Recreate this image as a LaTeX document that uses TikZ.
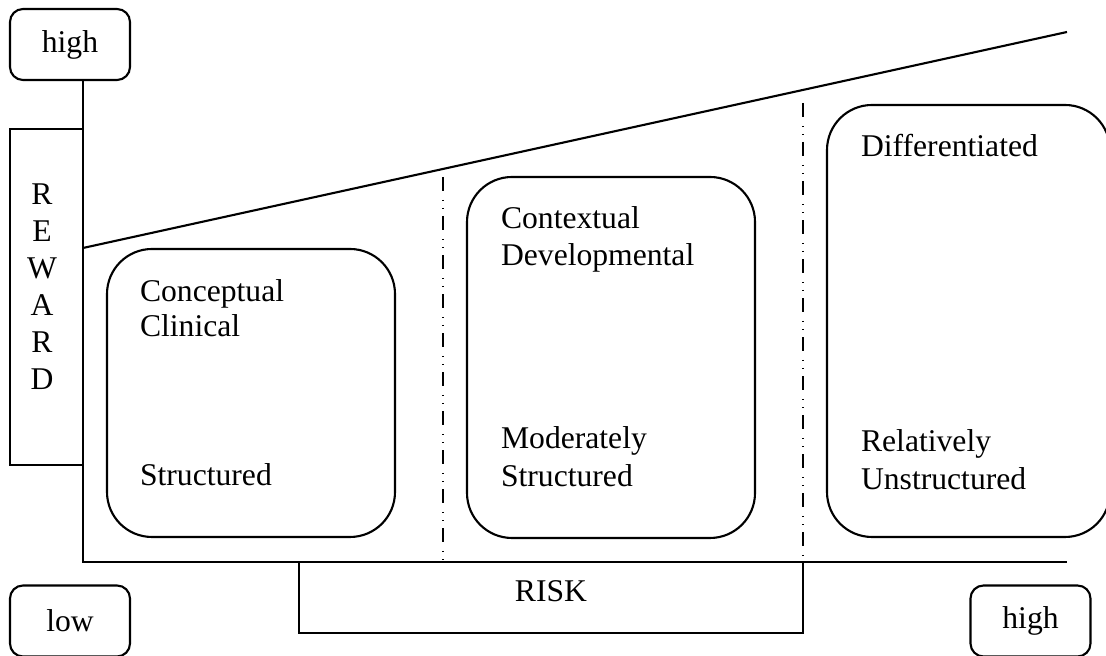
\documentclass[tikz,border=0pt]{standalone}
\usepackage{fontspec}
\setmainfont{Liberation Serif}
\usetikzlibrary{positioning,calc}

\begin{document}
\begin{tikzpicture}[scale=1, line width=0.6pt,
    every node/.style={font=\fontsize{9}{10.5}\selectfont},
    endbox/.style={draw, rounded corners=0.13cm, minimum width=1.2cm, minimum height=0.71cm, inner sep=0pt},
    fieldbox/.style={draw, rounded corners=0.45cm, inner sep=0pt},
    plainbox/.style={draw, inner sep=0pt},
    txt/.style={anchor=base west, inner sep=0pt},
    divider/.style={dash pattern=on 4pt off 2.5pt on 0.3pt off 2pt on 0.3pt off 2pt}]

    \useasboundingbox (0,0) rectangle (11.06,6.56);

    % axes
    \coordinate (org) at (0.83,0.94);
    \coordinate (xend) at (10.67,0.94);
    \coordinate (slantA) at (0.83,4.08);
    \coordinate (slantB) at (10.67,6.24);

    \node[endbox] (hightop) at (0.70,6.115) {high};
    \node[endbox] (low) at (0.70,0.35) {low};
    \node[endbox] (highbot) at (10.305,0.35) {high};

    \node[plainbox, minimum width=0.73cm, minimum height=3.36cm] (rewardbox) at (0.465,3.59) {};
    \foreach \ch [count=\i] in {R,E,W,A,R,D}
        \node[anchor=base, inner sep=0pt] (rw\i) at (0.42,4.88-0.37*\i) {\ch};

    \node[plainbox, minimum width=5.04cm, minimum height=0.71cm] (riskbox) at (5.51,0.585) {};
    \node[inner sep=0pt] (risk) at (5.51,0.645) {RISK};

    \draw (hightop.south -| org) -- (org) -- (xend);
    \draw (slantA) -- (slantB);

    % dividers
    \coordinate (divA) at (4.43,4.79);
    \coordinate (divB) at (8.03,5.53);
    \draw[divider] (divA) -- (divA |- org);
    \draw[divider] (divB) -- (divB |- org);

    % fields
    \node[fieldbox, minimum width=2.88cm, minimum height=2.88cm] (clinbox) at (2.51,2.63) {};
    \node[fieldbox, minimum width=2.88cm, minimum height=3.61cm] (devbox) at (6.11,2.985) {};
    \node[fieldbox, minimum width=2.83cm, minimum height=4.32cm] (diffbox) at (9.685,3.35) {};

    \node[txt] (concept) at (1.39,3.54) {Conceptual};
    \node[txt] (clinic) at (1.39,3.19) {Clinical};
    \node[txt] (struct) at (1.39,1.70) {Structured};

    \node[txt] (context) at (5.00,4.27) {Contextual};
    \node[txt] (develop) at (5.00,3.90) {Developmental};
    \node[txt] (moder) at (5.00,2.07) {Moderately};
    \node[txt] (modstruct) at (5.00,1.69) {Structured};

    \node[txt] (differ) at (8.60,4.99) {Differentiated};
    \node[txt] (relat) at (8.60,2.04) {Relatively};
    \node[txt] (unstruct) at (8.60,1.66) {Unstructured};

\end{tikzpicture}
\end{document}
